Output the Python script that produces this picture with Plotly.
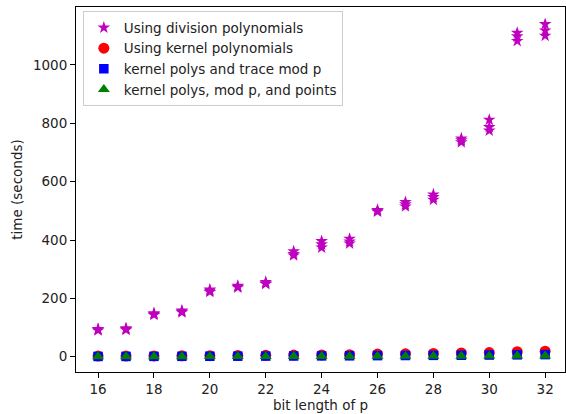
import plotly.graph_objects as go

bits = list(range(16, 33))
division_polys = [[90, 93, 95], [92, 95, 97], [143, 146, 149], [152, 155, 158],
                  [222, 226, 230], [237, 240, 243], [249, 252, 256], [347, 352, 361],
                  [374, 385, 396], [388, 395, 404], [497, 500, 503], [515, 522, 530],
                  [538, 547, 556], [735, 742, 748], [775, 787, 812], [1082, 1098, 1110],
                  [1100, 1118, 1140]]
kernel_polys = [2, 2, 2.5, 3, 3.5, 4, 4.5, 5.5, 6, 7, 9, 10, 11, 13, 14, 17, 19]
kernel_trace_mod_p = [0.8, 0.9, 1.1, 1.3, 1.5, 1.8, 2, 2.4, 2.7, 3, 3.6, 4, 4.5, 5, 5.6, 6.3, 7]
kernel_mod_p_points = [0.3, 0.4, 0.5, 0.6, 0.7, 0.8, 0.9, 1.1, 1.2, 1.4, 1.6, 1.8, 2, 2.3, 2.6, 2.9, 3.2]
x_ticks = [16, 18, 20, 22, 24, 26, 28, 30, 32]
y_ticks = [0, 200, 400, 600, 800, 1000]

div_x = [b for b, trials in zip(bits, division_polys) for _ in trials]
div_y = [v for trials in division_polys for v in trials]

font = "DejaVu Sans"
fs = 13.5
fig = go.Figure()
fig.add_trace(go.Scatter(x=div_x, y=div_y, mode="markers", name="Using division polynomials",
                         marker=dict(symbol="star", size=9.5, color="#bf00bf", line=dict(width=0))))
fig.add_trace(go.Scatter(x=bits, y=kernel_polys, mode="markers", name="Using kernel polynomials",
                         marker=dict(symbol="circle", size=11, color="#ff0000", line=dict(width=0))))
fig.add_trace(go.Scatter(x=bits, y=kernel_trace_mod_p, mode="markers", name="kernel polys and trace mod p",
                         marker=dict(symbol="square", size=9.5, color="#0000ff", line=dict(width=0))))
fig.add_trace(go.Scatter(x=bits, y=kernel_mod_p_points, mode="markers", name="kernel polys, mod p, and points",
                         marker=dict(symbol="triangle-up", size=10.5, color="#008000", line=dict(width=0))))

axis_common = dict(showgrid=False, zeroline=False, showline=True, linecolor="black", linewidth=1,
                   mirror=True, ticks="outside", ticklen=5, tickcolor="black", tickwidth=1,
                   tickfont=dict(family=font, size=fs, color="#222"))
fig.update_layout(
    width=566, height=414,
    margin=dict(l=76, r=1, t=7, b=42),
    paper_bgcolor="white", plot_bgcolor="white",
    font=dict(family=font, size=fs, color="#222"),
    xaxis=dict(range=[15.21, 32.71], tickvals=x_ticks,
               title=dict(text="bit length of p", font=dict(family=font, size=fs), standoff=3),
               **axis_common),
    yaxis=dict(range=[-52.5, 1198.8], tickvals=y_ticks,
               title=dict(text="time (seconds)", font=dict(family=font, size=fs), standoff=7),
               **axis_common),
    legend=dict(x=0.014, y=0.988, xanchor="left", yanchor="top", bgcolor="white",
                bordercolor="#cccccc", borderwidth=1,
                font=dict(family=font, size=fs, color="#222"), tracegroupgap=0),
    showlegend=True,
)
fig.write_html("out.html", config={"displayModeBar": False},
               post_script="document.body.style.margin='0';document.body.style.overflow='hidden';")
